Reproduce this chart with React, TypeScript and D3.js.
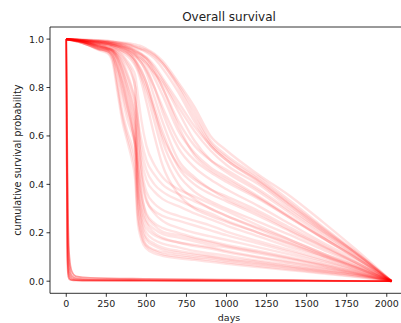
import React from "react";
import * as d3 from "d3";

const W = 401;
const H = 323;

// Curves that collapse almost immediately after day 0
const acuteDays = [0, 2, 6, 12, 20, 35, 60, 150, 500, 1000, 1500, 2030];
const acuteCurves = [
  [1, 0.6, 0.15, 0.04, 0.015, 0.006, 0.004, 0.003, 0.002, 0.0015, 0.001, 0],
  [1, 0.75, 0.3, 0.08, 0.03, 0.012, 0.007, 0.005, 0.004, 0.003, 0.002, 0],
  [1, 0.85, 0.45, 0.15, 0.06, 0.022, 0.012, 0.008, 0.006, 0.004, 0.003, 0],
  [1, 0.9, 0.6, 0.25, 0.1, 0.04, 0.02, 0.014, 0.01, 0.007, 0.004, 0],
  [1, 0.5, 0.1, 0.02, 0.008, 0.004, 0.003, 0.002, 0.002, 0.001, 0.001, 0],
];

// Shared day grid for the remaining curves
const dayGrid = [0, 100, 200, 260, 290, 320, 350, 380, 410, 430, 445, 470, 500, 550, 600, 700, 800, 900, 1000, 1200, 1400, 1600, 1800, 2030];

// Curves with a steep drop between ~280 and ~500 days
const earlyDropCurves = [
  [1, 0.985, 0.96, 0.95, 0.92, 0.82, 0.7, 0.62, 0.56, 0.5, 0.3, 0.2, 0.15, 0.13, 0.12, 0.11, 0.1, 0.095, 0.085, 0.07, 0.055, 0.04, 0.025, 0],
  [1, 0.985, 0.962, 0.95, 0.93, 0.86, 0.76, 0.67, 0.61, 0.55, 0.35, 0.24, 0.18, 0.155, 0.14, 0.125, 0.115, 0.105, 0.095, 0.08, 0.062, 0.045, 0.027, 0],
  [1, 0.99, 0.965, 0.955, 0.94, 0.89, 0.8, 0.72, 0.64, 0.56, 0.47, 0.33, 0.25, 0.215, 0.195, 0.18, 0.165, 0.15, 0.14, 0.115, 0.09, 0.065, 0.035, 0],
  [1, 0.99, 0.97, 0.96, 0.95, 0.92, 0.86, 0.78, 0.7, 0.64, 0.55, 0.42, 0.33, 0.29, 0.27, 0.25, 0.23, 0.21, 0.19, 0.155, 0.12, 0.085, 0.048, 0],
  [1, 0.99, 0.97, 0.96, 0.95, 0.93, 0.89, 0.83, 0.76, 0.7, 0.62, 0.5, 0.42, 0.37, 0.34, 0.31, 0.28, 0.255, 0.23, 0.185, 0.14, 0.1, 0.055, 0],
  [1, 0.99, 0.975, 0.965, 0.955, 0.94, 0.91, 0.86, 0.8, 0.75, 0.68, 0.58, 0.5, 0.44, 0.4, 0.36, 0.33, 0.3, 0.27, 0.215, 0.16, 0.11, 0.06, 0],
  [1, 0.985, 0.955, 0.94, 0.9, 0.78, 0.66, 0.58, 0.5, 0.42, 0.25, 0.17, 0.135, 0.115, 0.105, 0.095, 0.088, 0.08, 0.072, 0.058, 0.045, 0.032, 0.018, 0],
  [1, 0.985, 0.96, 0.95, 0.93, 0.88, 0.82, 0.74, 0.66, 0.58, 0.4, 0.26, 0.2, 0.17, 0.155, 0.14, 0.125, 0.115, 0.105, 0.085, 0.068, 0.05, 0.03, 0],
  [1, 0.99, 0.97, 0.96, 0.955, 0.94, 0.92, 0.89, 0.85, 0.8, 0.45, 0.3, 0.24, 0.2, 0.18, 0.16, 0.15, 0.14, 0.125, 0.1, 0.08, 0.058, 0.034, 0],
  [1, 0.99, 0.975, 0.965, 0.96, 0.95, 0.93, 0.9, 0.86, 0.8, 0.7, 0.45, 0.34, 0.28, 0.25, 0.22, 0.2, 0.185, 0.17, 0.14, 0.11, 0.078, 0.045, 0],
  [1, 0.99, 0.97, 0.96, 0.95, 0.91, 0.84, 0.76, 0.68, 0.62, 0.5, 0.36, 0.28, 0.24, 0.22, 0.2, 0.18, 0.165, 0.15, 0.125, 0.098, 0.07, 0.04, 0],
  [1, 0.985, 0.96, 0.95, 0.935, 0.87, 0.78, 0.7, 0.63, 0.56, 0.38, 0.22, 0.17, 0.145, 0.13, 0.118, 0.108, 0.1, 0.09, 0.074, 0.058, 0.042, 0.024, 0],
  [1, 0.99, 0.968, 0.958, 0.945, 0.9, 0.82, 0.73, 0.64, 0.57, 0.5, 0.36, 0.27, 0.23, 0.205, 0.19, 0.175, 0.16, 0.145, 0.12, 0.094, 0.067, 0.038, 0],
  [1, 0.99, 0.972, 0.962, 0.955, 0.935, 0.9, 0.85, 0.79, 0.74, 0.66, 0.54, 0.46, 0.4, 0.37, 0.335, 0.305, 0.28, 0.25, 0.2, 0.15, 0.105, 0.058, 0],
  [1, 0.988, 0.965, 0.955, 0.945, 0.92, 0.87, 0.8, 0.72, 0.66, 0.42, 0.28, 0.22, 0.19, 0.175, 0.16, 0.145, 0.135, 0.12, 0.097, 0.076, 0.055, 0.031, 0],
  [1, 0.99, 0.975, 0.966, 0.96, 0.95, 0.935, 0.91, 0.88, 0.85, 0.78, 0.66, 0.56, 0.48, 0.43, 0.38, 0.35, 0.32, 0.29, 0.23, 0.17, 0.115, 0.063, 0],
  [1, 0.985, 0.958, 0.945, 0.915, 0.8, 0.68, 0.6, 0.53, 0.46, 0.28, 0.185, 0.145, 0.125, 0.112, 0.102, 0.094, 0.087, 0.078, 0.063, 0.049, 0.035, 0.02, 0],
  [1, 0.99, 0.97, 0.96, 0.952, 0.925, 0.875, 0.81, 0.74, 0.68, 0.58, 0.46, 0.37, 0.32, 0.295, 0.27, 0.25, 0.23, 0.205, 0.165, 0.128, 0.09, 0.05, 0],
];

// Curves that decline later, between ~500 and ~1000 days
const lateDropCurves = [
  [1, 0.995, 0.985, 0.98, 0.975, 0.97, 0.96, 0.95, 0.93, 0.91, 0.89, 0.85, 0.8, 0.7, 0.6, 0.48, 0.42, 0.38, 0.35, 0.29, 0.22, 0.15, 0.08, 0],
  [1, 0.995, 0.985, 0.98, 0.975, 0.97, 0.965, 0.955, 0.94, 0.93, 0.92, 0.9, 0.87, 0.8, 0.72, 0.58, 0.5, 0.45, 0.41, 0.34, 0.26, 0.18, 0.1, 0],
  [1, 0.995, 0.99, 0.985, 0.98, 0.975, 0.97, 0.965, 0.955, 0.945, 0.94, 0.93, 0.91, 0.86, 0.8, 0.66, 0.56, 0.5, 0.46, 0.38, 0.29, 0.2, 0.11, 0],
  [1, 0.998, 0.995, 0.993, 0.99, 0.988, 0.986, 0.984, 0.98, 0.978, 0.975, 0.97, 0.96, 0.94, 0.91, 0.82, 0.72, 0.6, 0.54, 0.44, 0.35, 0.245, 0.135, 0],
  [1, 0.997, 0.992, 0.99, 0.987, 0.984, 0.98, 0.975, 0.97, 0.965, 0.96, 0.955, 0.945, 0.92, 0.88, 0.78, 0.66, 0.56, 0.5, 0.41, 0.31, 0.21, 0.12, 0],
  [1, 0.995, 0.99, 0.985, 0.98, 0.975, 0.97, 0.96, 0.95, 0.94, 0.93, 0.92, 0.9, 0.86, 0.82, 0.7, 0.58, 0.5, 0.45, 0.37, 0.28, 0.19, 0.105, 0],
  [1, 0.99, 0.98, 0.975, 0.97, 0.96, 0.95, 0.94, 0.92, 0.9, 0.88, 0.84, 0.78, 0.66, 0.54, 0.4, 0.34, 0.3, 0.27, 0.22, 0.17, 0.115, 0.065, 0],
  [1, 0.995, 0.985, 0.98, 0.975, 0.97, 0.96, 0.95, 0.94, 0.93, 0.92, 0.9, 0.86, 0.76, 0.66, 0.5, 0.43, 0.38, 0.34, 0.28, 0.21, 0.145, 0.08, 0],
  [1, 0.99, 0.98, 0.975, 0.97, 0.965, 0.955, 0.945, 0.93, 0.915, 0.9, 0.87, 0.82, 0.7, 0.58, 0.44, 0.37, 0.33, 0.3, 0.245, 0.19, 0.13, 0.072, 0],
  [1, 0.995, 0.99, 0.985, 0.982, 0.978, 0.972, 0.966, 0.958, 0.95, 0.945, 0.935, 0.92, 0.88, 0.83, 0.72, 0.62, 0.54, 0.48, 0.4, 0.3, 0.205, 0.115, 0],
  [1, 0.99, 0.98, 0.97, 0.965, 0.955, 0.945, 0.93, 0.91, 0.89, 0.87, 0.82, 0.74, 0.6, 0.48, 0.36, 0.3, 0.27, 0.245, 0.2, 0.155, 0.105, 0.058, 0],
  [1, 0.993, 0.985, 0.98, 0.976, 0.97, 0.964, 0.956, 0.945, 0.935, 0.925, 0.91, 0.88, 0.8, 0.7, 0.55, 0.47, 0.42, 0.38, 0.31, 0.235, 0.16, 0.09, 0],
  [1, 0.996, 0.99, 0.987, 0.984, 0.98, 0.976, 0.97, 0.962, 0.955, 0.95, 0.94, 0.925, 0.89, 0.84, 0.74, 0.64, 0.56, 0.5, 0.415, 0.315, 0.215, 0.12, 0],
  [1, 0.997, 0.993, 0.99, 0.988, 0.985, 0.982, 0.978, 0.972, 0.968, 0.964, 0.958, 0.95, 0.93, 0.9, 0.81, 0.7, 0.58, 0.52, 0.43, 0.33, 0.225, 0.125, 0],
  [1, 0.994, 0.987, 0.982, 0.978, 0.973, 0.967, 0.96, 0.95, 0.942, 0.935, 0.92, 0.9, 0.84, 0.77, 0.62, 0.53, 0.47, 0.43, 0.35, 0.265, 0.18, 0.1, 0],
  [1, 0.992, 0.982, 0.976, 0.97, 0.962, 0.952, 0.94, 0.925, 0.91, 0.895, 0.865, 0.82, 0.72, 0.62, 0.47, 0.4, 0.36, 0.33, 0.27, 0.205, 0.14, 0.078, 0],
  [1, 0.996, 0.99, 0.986, 0.983, 0.979, 0.974, 0.968, 0.96, 0.952, 0.946, 0.936, 0.92, 0.87, 0.8, 0.64, 0.52, 0.46, 0.42, 0.345, 0.26, 0.178, 0.098, 0],
  [1, 0.997, 0.994, 0.991, 0.989, 0.986, 0.983, 0.98, 0.975, 0.97, 0.967, 0.962, 0.955, 0.935, 0.9, 0.8, 0.68, 0.57, 0.51, 0.42, 0.32, 0.22, 0.12, 0],
];

const xTicks = [0, 250, 500, 750, 1000, 1250, 1500, 1750, 2000];
const yTicks = [0, 0.2, 0.4, 0.6, 0.8, 1.0];

const FONT = "'DejaVu Sans', sans-serif";

export default function App() {
  const left = 50, right = 408, top = 27, bottom = 293.3;
  const x = d3.scaleLinear().domain([-101.5, 2132.5]).range([left, right]);
  const y = d3.scaleLinear().domain([-0.05, 1.05]).range([bottom, top]);

  const line = d3
    .line<[number, number]>()
    .x((d) => x(d[0]))
    .y((d) => y(d[1]))
    .curve(d3.curveMonotoneX);

  const toPts = (days: number[], vals: number[]) =>
    days.map((d, i) => [d, vals[i]] as [number, number]);

  return (
    <svg
      width={W}
      height={H}
      style={{ position: "absolute", left: 0, top: 0, background: "#fff" }}
    >
      <defs>
        <clipPath id="plotclip">
          <rect x={left} y={top} width={right - left} height={bottom - top} />
        </clipPath>
      </defs>
      <g clipPath="url(#plotclip)">
        {lateDropCurves.map((c, i) => (
          <path key={"l" + i} d={line(toPts(dayGrid, c)) || ""} fill="none" stroke="red" strokeOpacity={0.12} strokeWidth={2.4} />
        ))}
        {earlyDropCurves.map((c, i) => (
          <path key={"e" + i} d={line(toPts(dayGrid, c)) || ""} fill="none" stroke="red" strokeOpacity={0.11} strokeWidth={2.4} />
        ))}
        {acuteCurves.map((c, i) => (
          <path key={"a" + i} d={line(toPts(acuteDays, c)) || ""} fill="none" stroke="red" strokeOpacity={0.4} strokeWidth={1.6} />
        ))}
      </g>
      {/* spines */}
      <line x1={left} x2={left} y1={top} y2={bottom} stroke="#000" strokeWidth={0.8} />
      <line x1={left} x2={right} y1={bottom} y2={bottom} stroke="#000" strokeWidth={0.8} />
      <line x1={left} x2={right} y1={top} y2={top} stroke="#000" strokeWidth={0.8} />
      {/* x ticks */}
      {xTicks.map((t) => (
        <g key={"xt" + t}>
          <line x1={x(t)} x2={x(t)} y1={bottom} y2={bottom + 3.5} stroke="#000" strokeWidth={0.8} />
          <text x={x(t)} y={bottom + 14} textAnchor="middle" fontFamily={FONT} fontSize={9.5} fill="#222">
            {t}
          </text>
        </g>
      ))}
      {/* y ticks */}
      {yTicks.map((t) => (
        <g key={"yt" + t}>
          <line x1={left - 3.5} x2={left} y1={y(t)} y2={y(t)} stroke="#000" strokeWidth={0.8} />
          <text x={left - 6} y={y(t) + 3.4} textAnchor="end" fontFamily={FONT} fontSize={9.5} fill="#222">
            {d3.format(".1f")(t)}
          </text>
        </g>
      ))}
      <text x={(left + right) / 2} y={20.5} textAnchor="middle" fontFamily={FONT} fontSize={12} fill="#222">
        Overall survival
      </text>
      <text x={(left + right) / 2} y={321} textAnchor="middle" fontFamily={FONT} fontSize={9.5} fill="#222">
        days
      </text>
      <text
        transform={`translate(21, ${(top + bottom) / 2}) rotate(-90)`}
        textAnchor="middle"
        fontFamily={FONT}
        fontSize={9.8}
        fill="#222"
      >
        cumulative survival probability
      </text>
    </svg>
  );
}
